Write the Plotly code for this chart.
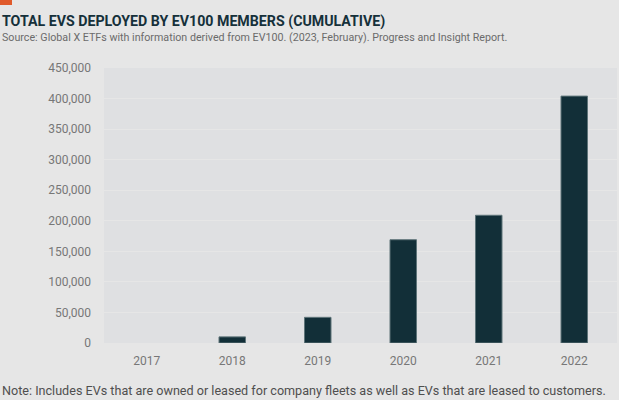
import plotly.graph_objects as go

years = ["2017", "2018", "2019", "2020", "2021", "2022"]
evs_deployed = [0, 10000, 42000, 169000, 209000, 404000]
y_ticks = [0, 50000, 100000, 150000, 200000, 250000, 300000, 350000, 400000, 450000]

title_text = "TOTAL EVS DEPLOYED BY EV100 MEMBERS (CUMULATIVE)"
source_text = "Source: Global X ETFs with information derived from EV100. (2023, February). Progress and Insight Report."
note_text = "Note: Includes EVs that are owned or leased for company fleets as well as EVs that are leased to customers."

W, H = 619, 400
ml, mr, mt, mb = 104, 2, 68, 57
pw = W - ml - mr
ph = H - mt - mb

fig = go.Figure()
fig.add_trace(go.Bar(
    x=years, y=evs_deployed,
    marker=dict(color="#122f38",
                line=dict(color="#5e7479", width=[0 if v == 0 else 1 for v in evs_deployed])),
    width=0.31,
    hoverinfo="x+y",
))

fig.update_layout(
    width=W, height=H,
    margin=dict(l=ml, r=mr, t=mt, b=mb),
    paper_bgcolor="#e6e6e6",
    plot_bgcolor="#dfe0e2",
    showlegend=False,
    font=dict(family="Roboto", color="#777777", size=12),
    xaxis=dict(
        type="category", showgrid=False, zeroline=False, showline=False,
        tickfont=dict(size=12, color="#777777"), ticks="", ticklen=0,
        ticklabelstandoff=9,
    ),
    yaxis=dict(
        range=[0, 450000], tickvals=y_ticks,
        ticktext=[f"{v:,}" for v in y_ticks],
        gridcolor="#e6e6e6", gridwidth=1, zeroline=False, showline=False,
        tickfont=dict(size=12, color="#777777"), ticks="", ticklen=0,
        ticklabelstandoff=12,
    ),
    shapes=[dict(type="rect", xref="paper", yref="paper",
                 x0=-ml / pw, x1=(12 - ml) / pw,
                 y0=1 + (mt - 5) / ph, y1=1 + mt / ph,
                 fillcolor="#e05a2b", line=dict(width=0))],
    annotations=[
        dict(text="<b>" + title_text + "</b>", xref="paper", yref="paper",
             x=-ml / pw, y=1 + (mt - 21) / ph, xanchor="left", yanchor="middle",
             showarrow=False, font=dict(family="Roboto", size=14.2, color="#15303a")),
        dict(text=source_text, xref="paper", yref="paper",
             x=-ml / pw, y=1 + (mt - 38) / ph, xanchor="left", yanchor="middle",
             showarrow=False, font=dict(family="Roboto", size=10.7, color="#6b6b6b")),
        dict(text=note_text, xref="paper", yref="paper",
             x=-ml / pw, y=-(390 - mt - ph) / ph, xanchor="left", yanchor="middle",
             showarrow=False, font=dict(family="Roboto", size=12.6, color="#4f4f4f")),
    ],
)

fig.write_html("out.html", config={"displayModeBar": False},
               post_script="document.body.style.margin='0';")
